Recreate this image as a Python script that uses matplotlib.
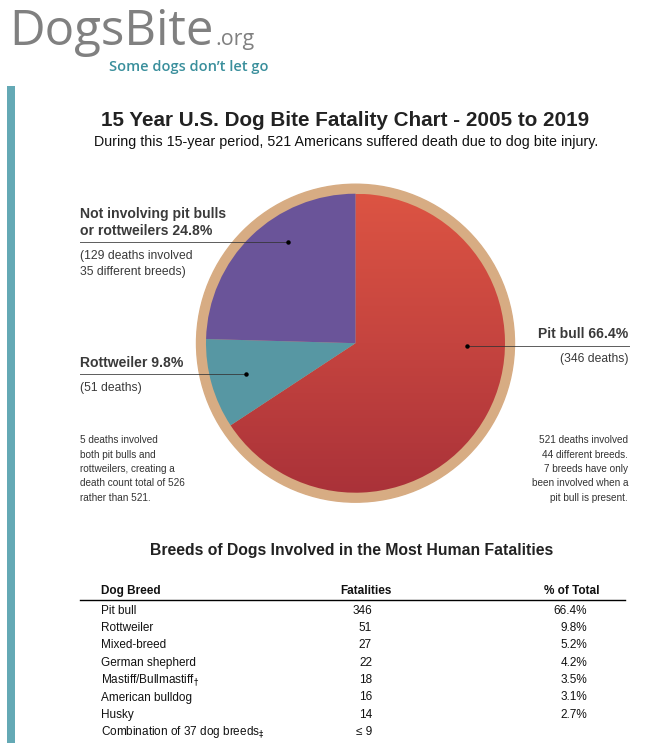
import numpy as np
import matplotlib
matplotlib.use("Agg")
import matplotlib.pyplot as plt
from matplotlib.colors import LinearSegmentedColormap
from matplotlib.patches import Circle, Rectangle

# ---------------- data ----------------
pie_labels = ["Pit bull", "Rottweiler", "Not involving pit bulls or rottweilers"]
pie_shares = [66.4, 9.8, 24.8]
pie_deaths = [346, 51, 129]

breeds = ["Pit bull", "Rottweiler", "Mixed-breed", "German shepherd",
          "Mastiff/Bullmastiff", "American bulldog", "Husky",
          "Combination of 37 dog breeds"]
breed_marks = ["", "", "", "", r"$_{\dagger}$", "", "", r"$_{\ddagger}$"]
fatalities = ["346", "51", "27", "22", "18", "16", "14", "\u2264 9"]
pct_total = ["66.4%", "9.8%", "5.2%", "4.2%", "3.5%", "3.1%", "2.7%", ""]

# ---------------- figure ----------------
W, H = 663, 743
fig = plt.figure(figsize=(W / 100, H / 100), dpi=100)
fig.patch.set_facecolor("white")
plt.rcParams["font.family"] = ["Liberation Sans", "DejaVu Sans"]

# pie axes (pixel geometry)
cx, cy, r_in, r_out = 355.5, 343.2, 149.5, 159.0
half = 161.0
pax = fig.add_axes([(cx - half) / W, 1 - (cy + half) / H, 2 * half / W, 2 * half / H])
pax.set_zorder(1)
pax.axis("off")
wedges, _ = pax.pie(pie_shares, startangle=90, counterclock=False,
                    colors=["none", "#5797A3", "#6A5499"], radius=1.0,
                    wedgeprops=dict(linewidth=0))
lim = half / r_in
pax.add_patch(Circle((0, 0), r_out / r_in, color="#D7AC83", zorder=0))
cmap = LinearSegmentedColormap.from_list("red", ["#DC5443", "#C5443F", "#AA3239"])
grad = np.linspace(0, 1, 256).reshape(-1, 1)
im = pax.imshow(grad, cmap=cmap, extent=(-1, 1, -1, 1), origin="upper",
                aspect="auto", zorder=1)
im.set_clip_path(wedges[0])
for w in wedges[1:]:
    w.set_zorder(2)
pax.set_xlim(-lim, lim)
pax.set_ylim(-lim, lim)
pax.set_aspect("equal")

# overlay axes in pixel coordinates
ax = fig.add_axes([0, 0, 1, 1])
ax.set_zorder(2)
ax.set_xlim(0, W)
ax.set_ylim(H, 0)
ax.axis("off")
ax.patch.set_visible(False)

renderer = fig.canvas.get_renderer()


def fit(t, target_w):
    bb = t.get_window_extent(renderer)
    t.set_fontsize(t.get_fontsize() * target_w / bb.width)
    return t.get_window_extent(renderer)


# left accent bar
ax.add_patch(Rectangle((7, 86), 8, H - 86, color="#64A9B5", lw=0))

# logo
t1 = ax.text(9, 45, "DogsBite", fontsize=36, color="#808080", family="Open Sans",
             va="baseline", ha="left")
bb = fit(t1, 204)
t2 = ax.text(bb.x1 + 2, 45, ".org", fontsize=16, color="#808080", family="Open Sans",
             va="baseline", ha="left")
fit(t2, 39)
t3 = ax.text(109, 70.5, "Some dogs don\u2019t let go", fontsize=11.6, color="#3A8F9C",
             family="Open Sans", fontweight="semibold", va="baseline", ha="left")
fit(t3, 159)

# titles
tt = ax.text(345.5, 126, "15 Year U.S. Dog Bite Fatality Chart - 2005 to 2019",
             fontsize=14.9, fontweight="bold", color="#222222", ha="center", va="baseline")
fit(tt, 487)
st = ax.text(346.5, 146, "During this 15-year period, 521 Americans suffered death due to dog bite injury.",
             fontsize=10.2, color="#111111", ha="center", va="baseline")
fit(st, 501)

lab_c = "#3a3a3a"
lead_c = "#333333"
sub_fs = 8.7
note_fs = 7.2
# purple label
ax.text(80, 218, "Not involving pit bulls", fontsize=10.1, fontweight="bold",
        color=lab_c, va="baseline")
ax.text(80, 235, f"or rottweilers {pie_shares[2]}%", fontsize=10.1, fontweight="bold",
        color=lab_c, va="baseline")
ax.plot([80, 288], [242.3, 242.3], color=lead_c, lw=0.7, alpha=0.8)
ax.plot([288], [242.3], "o", ms=2.2, color="black")
ax.text(80, 259, f"({pie_deaths[2]} deaths involved", fontsize=sub_fs, color=lab_c, va="baseline")
ax.text(80, 275, "35 different breeds)", fontsize=sub_fs, color=lab_c, va="baseline")

# rottweiler label
ax.text(80, 367, f"Rottweiler {pie_shares[1]}%", fontsize=10.1, fontweight="bold",
        color=lab_c, va="baseline")
ax.plot([80, 246], [374.3, 374.3], color=lead_c, lw=0.7, alpha=0.8)
ax.plot([246], [374.3], "o", ms=2.2, color="black")
ax.text(80, 391, f"({pie_deaths[1]} deaths)", fontsize=sub_fs, color=lab_c, va="baseline")

# pit bull label
ax.text(628, 338, f"Pit bull {pie_shares[0]}%", fontsize=10.1, fontweight="bold",
        color=lab_c, va="baseline", ha="right")
ax.plot([467, 629], [346, 346], color=lead_c, lw=0.7, alpha=0.8)
ax.plot([467], [346], "o", ms=2.2, color="black")
ax.text(628, 362, f"({pie_deaths[0]} deaths)", fontsize=sub_fs, color=lab_c,
        va="baseline", ha="right")

# notes
left_note = ["5 deaths involved", "both pit bulls and", "rottweilers, creating a",
             "death count total of 526", "rather than 521."]
right_note = ["521 deaths involved", "44 different breeds.", "7 breeds have only",
              "been involved when a", "pit bull is present."]
for i, t in enumerate(left_note):
    ax.text(80, 443 + i * 14.5, t, fontsize=note_fs, color="#333333", va="baseline")
for i, t in enumerate(right_note):
    ax.text(628, 443 + i * 14.5, t, fontsize=note_fs, color="#333333", va="baseline", ha="right")

# table
ax.text(352, 555, "Breeds of Dogs Involved in the Most Human Fatalities",
        fontsize=11.3, fontweight="bold", color="#222222", ha="center", va="baseline")
tfs = 8.45
ax.text(101, 594, "Dog Breed", fontsize=tfs, fontweight="bold", color="#111111", va="baseline")
ax.text(365.5, 594, "Fatalities", fontsize=tfs, fontweight="bold", color="#111111",
        va="baseline", ha="center")
ax.text(599, 594, "% of Total", fontsize=tfs, fontweight="bold", color="#111111",
        va="baseline", ha="right")
ax.plot([80, 625], [600, 600], color="black", lw=1.0)
for i, (b, m, f, p) in enumerate(zip(breeds, breed_marks, fatalities, pct_total)):
    y = 613.5 + i * 17.4
    ax.text(101, y, b + m, fontsize=tfs, color="#111111", va="baseline")
    ax.text(372, y, f, fontsize=tfs, color="#111111", va="baseline", ha="right")
    if p:
        ax.text(587, y, p, fontsize=tfs, color="#111111", va="baseline", ha="right")

fig.savefig("out.png", dpi=100, facecolor="white")
